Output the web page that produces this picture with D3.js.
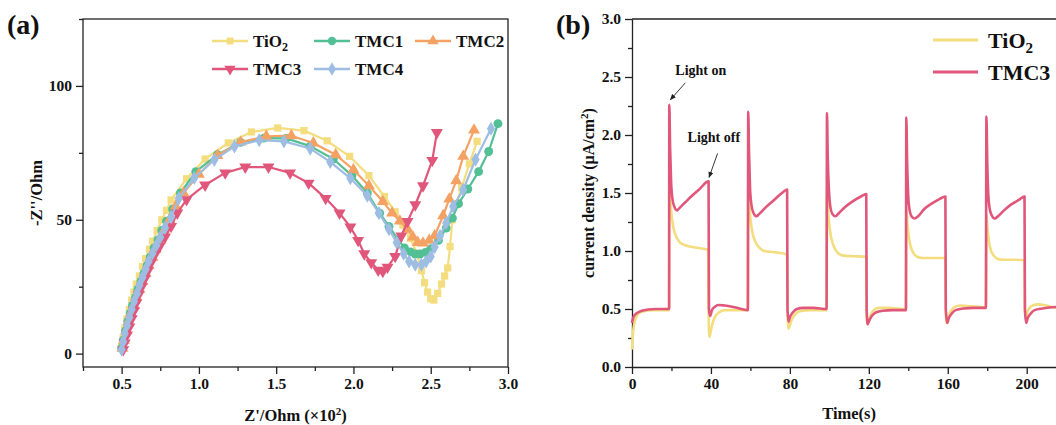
<!DOCTYPE html>
<html><head><meta charset="utf-8">
<script src="https://cdn.jsdelivr.net/npm/d3@7"></script>
<style>
body{margin:0;background:#fff}
svg{display:block}
text{font-family:"Liberation Serif","Times New Roman",serif;font-weight:bold;fill:#111}
</style>
</head><body><svg id="c" width="1056" height="425"></svg>
<script>
// ---------- Panel (a) data: Nyquist plots, Z' (x10^2 Ohm) vs -Z'' (Ohm) ----------
const seriesNamesA = ["TiO2","TMC1","TMC2","TMC3","TMC4"];
const dataTiO2 = [[0.50,2.5],[0.51,6],[0.52,9.5],[0.535,13],[0.55,16.5],[0.565,20],[0.58,23],[0.595,26],[0.615,29],[0.635,32.5],[0.655,35.5],[0.68,39],[0.70,42],[0.73,46],[0.76,50],[0.79,53.5],[0.82,57.4],[0.92,65.3],[1.04,72.7],[1.19,78.7],[1.34,82.8],[1.51,84.3],[1.68,83.3],[1.83,79.5],[1.975,73.7],[2.10,66.5],[2.20,58.7],[2.27,53],[2.32,48],[2.37,43],[2.41,37.5],[2.44,31],[2.46,26.5],[2.48,23],[2.50,20.5],[2.52,20],[2.545,22.5],[2.57,26],[2.59,29],[2.61,32],[2.625,40],[2.64,50],[2.665,56],[2.70,62],[2.75,70.9],[2.80,79.3]];
const dataTMC1 = [[0.50,2],[0.51,5],[0.525,8.5],[0.54,12],[0.555,15],[0.57,18],[0.59,21],[0.605,24],[0.625,27],[0.645,30],[0.665,33],[0.685,36],[0.71,39.5],[0.735,42.5],[0.76,46],[0.79,49.5],[0.83,54],[0.88,60],[0.98,68],[1.12,74.3],[1.27,78.9],[1.42,80.5],[1.565,80.4],[1.72,77.5],[1.87,72.7],[1.99,66.5],[2.09,60],[2.17,52.5],[2.23,47.5],[2.29,42.5],[2.33,39.5],[2.37,38],[2.40,37.2],[2.43,37.2],[2.466,37.8],[2.50,39.2],[2.55,42.3],[2.60,46.9],[2.64,50.6],[2.68,56],[2.74,61.5],[2.81,68],[2.875,75.5],[2.935,85.9]];
const dataTMC2 = [[0.505,2],[0.515,5],[0.53,8.5],[0.545,12],[0.56,15],[0.58,18],[0.595,21],[0.615,24],[0.635,27],[0.655,30],[0.675,33],[0.70,36],[0.72,39],[0.75,42.5],[0.775,46],[0.81,50],[0.85,55],[0.90,60],[1.00,67],[1.12,74],[1.27,79],[1.436,81.2],[1.598,81.4],[1.74,78.7],[1.885,74.3],[2.0,68.7],[2.10,62.7],[2.19,56.8],[2.25,52.5],[2.30,49.5],[2.35,46.5],[2.385,43.5],[2.416,41.5],[2.45,41.3],[2.49,42.3],[2.525,44],[2.58,51.5],[2.62,57.7],[2.665,64.6],[2.71,73.7],[2.78,83.5]];
const dataTMC3 = [[0.51,1.5],[0.52,4],[0.535,7],[0.55,10],[0.565,13],[0.58,16],[0.595,19],[0.61,22],[0.63,25],[0.65,28],[0.67,31],[0.69,34],[0.715,37],[0.745,40],[0.78,43.5],[0.82,47.5],[0.86,52.5],[0.92,57.5],[1.04,63],[1.17,67.5],[1.30,69.7],[1.45,69.7],[1.59,67.5],[1.71,63.7],[1.82,58],[1.91,52.5],[1.98,47.3],[2.03,42.3],[2.07,37.3],[2.115,34],[2.16,31.2],[2.19,30.7],[2.22,32.3],[2.27,36.3],[2.31,44],[2.35,49.4],[2.40,55.6],[2.45,62.7],[2.51,72.2],[2.54,82.6]];
const dataTMC4 = [[0.50,1.5],[0.51,4.5],[0.52,7.5],[0.535,10.5],[0.55,13.5],[0.565,16.5],[0.58,19.5],[0.60,22.5],[0.615,25.5],[0.635,28.5],[0.655,31.5],[0.675,34.5],[0.70,37.5],[0.725,40.5],[0.75,43.5],[0.78,47],[0.82,51],[0.87,58],[0.97,65.6],[1.10,72.4],[1.23,77.4],[1.39,79.7],[1.55,79.3],[1.72,76.6],[1.85,71.6],[1.98,65.5],[2.09,59],[2.165,52.5],[2.23,46.5],[2.28,41.5],[2.325,37.3],[2.36,34.4],[2.40,33.2],[2.44,33.2],[2.47,34.4],[2.50,36.3],[2.525,39.8],[2.56,44],[2.60,48.8],[2.645,55],[2.71,61.2],[2.79,72.5],[2.89,84]];
const xTicksA = [0.5,1.0,1.5,2.0,2.5,3.0];
const xMinorA = [0.25,0.75,1.25,1.75,2.25,2.75];
const yTicksA = [0,50,100];
const yMinorA = [25,75,125];

// ---------- Panel (b) data: photocurrent vs time ----------
const seriesNamesB = ["TiO2","TMC3"];
const curTiO2 = [[0,0.15],[0.3,0.25],[0.8,0.34],[1.5,0.40],[2.5,0.44],[4,0.47],[6,0.48],[10,0.49],[18.8,0.49],
[18.9,1.60],[19.4,1.45],[20,1.32],[21,1.20],[22.5,1.12],[24.5,1.07],[27,1.05],[32,1.03],[38.6,1.01],
[38.8,0.5],[39.2,0.26],[39.8,0.30],[40.7,0.37],[42,0.43],[44,0.47],[47,0.49],[52,0.49],[58.7,0.49],
[58.9,1.58],[59.4,1.42],[60,1.28],[61,1.16],[62.5,1.08],[64.5,1.03],[67,1.00],[72,0.99],[78.6,0.97],
[78.8,0.5],[79.3,0.33],[80,0.36],[81,0.41],[82.5,0.45],[85,0.48],[90,0.49],[98.6,0.49],
[98.8,1.52],[99.3,1.36],[100,1.22],[101,1.11],[102.5,1.03],[104.5,0.98],[107,0.96],[112,0.955],[118.7,0.95],
[118.9,0.5],[119.3,0.37],[120,0.40],[121,0.45],[122.5,0.49],[125,0.51],[130,0.51],[138.8,0.50],
[139.0,1.37],[139.5,1.25],[140.2,1.13],[141.2,1.04],[142.7,0.98],[144.5,0.95],[147,0.94],[152,0.94],[158.8,0.94],
[159.0,0.5],[159.4,0.38],[160.2,0.43],[161.5,0.48],[163,0.51],[166,0.53],[170,0.525],[178,0.515],[179.4,0.51],
[179.6,1.32],[180.1,1.20],[180.8,1.09],[181.8,1.01],[183.3,0.96],[185.5,0.93],[189,0.925],[194,0.925],[198.9,0.92],
[199.1,0.5],[199.5,0.42],[200.3,0.47],[201.5,0.51],[203,0.53],[206,0.54],[210,0.53],[215,0.51],[222,0.50]];
const curTMC3 = [[0,0.38],[0.5,0.42],[1.5,0.45],[3,0.47],[5,0.485],[8,0.495],[12,0.50],[18.8,0.50],
[18.9,2.26],[19.3,1.9],[19.8,1.6],[20.5,1.45],[21.5,1.38],[22.8,1.35],[24,1.37],[27,1.42],[30,1.47],[34,1.53],[38.8,1.60],
[39.0,0.5],[39.6,0.44],[40.5,0.49],[42,0.52],[44,0.535],[47,0.53],[52,0.515],[58.7,0.49],
[58.9,2.20],[59.3,1.85],[59.8,1.55],[60.5,1.40],[61.5,1.33],[63,1.30],[64.5,1.32],[68,1.38],[72,1.44],[76,1.50],[78.6,1.53],
[78.8,0.5],[79.3,0.39],[80,0.43],[81.5,0.47],[83.5,0.50],[87,0.51],[92,0.51],[98.6,0.50],
[98.8,2.19],[99.2,1.8],[99.8,1.52],[100.5,1.38],[101.5,1.32],[103,1.30],[105,1.33],[108,1.38],[112,1.43],[116,1.47],[118.7,1.49],
[118.9,0.5],[119.4,0.37],[120.2,0.40],[121.5,0.44],[123.5,0.47],[127,0.485],[132,0.49],[138.8,0.49],
[139.0,2.15],[139.4,1.78],[139.9,1.50],[140.6,1.36],[141.6,1.30],[143.2,1.28],[145,1.30],[148,1.36],[152,1.41],[156,1.45],[158.8,1.47],
[159.0,0.5],[159.7,0.38],[160.5,0.42],[162,0.46],[164,0.49],[168,0.505],[173,0.51],[179.3,0.51],
[179.6,2.16],[180,1.78],[180.5,1.50],[181.2,1.37],[182.2,1.31],[183.8,1.28],[185.5,1.30],[188.5,1.35],[192,1.40],[196,1.44],[198.9,1.47],
[199.1,0.5],[199.7,0.38],[200.5,0.42],[202,0.46],[204,0.49],[208,0.505],[213,0.515],[222,0.52]];
const xTicksB = [0,40,80,120,160,200];
const xMinorB = [20,60,100,140,180];
const yTicksB = [0,0.5,1.0,1.5,2.0,2.5,3.0];
const yMinorB = [0.25,0.75,1.25,1.75,2.25,2.75];
const annotations = [{label:"Light on", t:18.9, v:2.26}, {label:"Light off", t:38.8, v:1.60}];

// ---------- styles ----------
const colA = {TiO2:"#F3DD7E", TMC1:"#52BF94", TMC2:"#F4A264", TMC3:"#E0577B", TMC4:"#9DBDE3"};
const symA = {TiO2:d3.symbolSquare, TMC1:d3.symbolCircle, TMC2:d3.symbolTriangle, TMC3:d3.symbolTriangle, TMC4:d3.symbolDiamond};
const rotA = {TiO2:0, TMC1:0, TMC2:0, TMC3:180, TMC4:0};
const sizeA = {TiO2:52, TMC1:62, TMC2:62, TMC3:62, TMC4:58};
const dataA = {TiO2:dataTiO2, TMC1:dataTMC1, TMC2:dataTMC2, TMC3:dataTMC3, TMC4:dataTMC4};

const svg = d3.select("#c");
const AX = "#222";

function styleAxis(g, fs){
  g.selectAll("path,line").attr("stroke",AX).attr("stroke-width",1.3);
  g.selectAll("text").attr("font-size",fs).attr("fill","#111")
   .attr("font-family",'"Liberation Serif","Times New Roman",serif').attr("font-weight","bold");
}

// ================= Panel (a) =================
const xa = d3.scaleLinear().domain([0.25,3.0]).range([83,508]);
const ya = d3.scaleLinear().domain([-5,125]).range([367,19]);
const ga = svg.append("g");

ga.append("g").attr("transform","translate(0,367)")
  .call(d3.axisBottom(xa).tickValues(xMinorA).tickSize(4).tickFormat("").tickSizeOuter(0))
  .call(g=>{g.select(".domain").remove(); styleAxis(g,15);});
ga.append("g").attr("transform","translate(83,0)")
  .call(d3.axisLeft(ya).tickValues(yMinorA).tickSize(4).tickFormat("").tickSizeOuter(0))
  .call(g=>{g.select(".domain").remove(); styleAxis(g,15);});
ga.append("g").attr("transform","translate(0,367)")
  .call(d3.axisBottom(xa).tickValues(xTicksA).tickSize(7).tickPadding(4).tickFormat(d3.format(".1f")).tickSizeOuter(0))
  .call(g=>{g.select(".domain").remove(); styleAxis(g,15.5);});
ga.append("g").attr("transform","translate(83,0)")
  .call(d3.axisLeft(ya).tickValues(yTicksA).tickSize(7).tickPadding(4).tickFormat(d3.format("d")).tickSizeOuter(0))
  .call(g=>{g.select(".domain").remove(); styleAxis(g,15.5);});
ga.append("rect").attr("x",xa.range()[0]).attr("y",ya.range()[1])
  .attr("width",xa.range()[1]-xa.range()[0]).attr("height",ya.range()[0]-ya.range()[1])
  .attr("fill","none").attr("stroke",AX).attr("stroke-width",1.3);

const lineA = d3.line().x(d=>xa(d[0])).y(d=>ya(d[1]));
seriesNamesA.forEach(n=>{
  const s = ga.append("g");
  s.append("path").datum(dataA[n]).attr("d",lineA).attr("fill","none")
   .attr("stroke",colA[n]).attr("stroke-width",2.2).attr("stroke-linejoin","round");
  s.selectAll("path.m").data(dataA[n]).join("path").attr("class","m")
   .attr("d",d3.symbol().type(symA[n]).size(sizeA[n]))
   .attr("transform",d=>`translate(${xa(d[0])},${ya(d[1])}) rotate(${rotA[n]})`)
   .attr("fill",colA[n]);
});

// legend (a)
const legA = [{n:"TiO2",x:212,y:41},{n:"TMC1",x:314,y:41},{n:"TMC2",x:415,y:41},{n:"TMC3",x:212,y:69},{n:"TMC4",x:314,y:69}];
legA.forEach(L=>{
  const g = ga.append("g");
  g.append("line").attr("x1",L.x).attr("x2",L.x+36).attr("y1",L.y).attr("y2",L.y)
   .attr("stroke",colA[L.n]).attr("stroke-width",2.4);
  g.append("path").attr("d",d3.symbol().type(symA[L.n]).size(sizeA[L.n]*0.9))
   .attr("transform",`translate(${L.x+18},${L.y}) rotate(${rotA[L.n]})`).attr("fill",colA[L.n]);
  const t = g.append("text").attr("x",L.x+41).attr("y",L.y+6).attr("font-size",17);
  if(L.n==="TiO2"){ t.text("TiO"); t.append("tspan").attr("dy",4).attr("font-size",12).text("2"); }
  else t.text(L.n);
});

ga.append("text").attr("x",(83+508)/2).attr("y",421).attr("text-anchor","middle").attr("font-size",16.5)
  .call(t=>{t.append("tspan").text("Z'/Ohm (×10"); t.append("tspan").attr("dy",-6).attr("font-size",11).text("2");
            t.append("tspan").attr("dy",6).text(")");});
ga.append("text").attr("transform","translate(42,193) rotate(-90)").attr("text-anchor","middle")
  .attr("font-size",16.5).text("-Z''/Ohm");
svg.append("text").attr("x",7).attr("y",34).attr("font-size",28).text("(a)");

// ================= Panel (b) =================
const xb = d3.scaleLinear().domain([0,230]).range([632,632+230*1.9735]);
const yb = d3.scaleLinear().domain([0,3]).range([367,19]);
const gb = svg.append("g");

gb.append("g").attr("transform","translate(0,367)")
  .call(d3.axisBottom(xb).tickValues(xMinorB).tickSize(4).tickFormat("").tickSizeOuter(0))
  .call(g=>{g.select(".domain").remove(); styleAxis(g,15);});
gb.append("g").attr("transform","translate(632,0)")
  .call(d3.axisLeft(yb).tickValues(yMinorB).tickSize(4).tickFormat("").tickSizeOuter(0))
  .call(g=>{g.select(".domain").remove(); styleAxis(g,15);});
gb.append("g").attr("transform","translate(0,367)")
  .call(d3.axisBottom(xb).tickValues(xTicksB).tickSize(7).tickPadding(4).tickFormat(d3.format("d")).tickSizeOuter(0))
  .call(g=>{styleAxis(g,15.5);});
gb.append("g").attr("transform","translate(632,0)")
  .call(d3.axisLeft(yb).tickValues(yTicksB).tickSize(7).tickPadding(4).tickFormat(d3.format(".1f")).tickSizeOuter(0))
  .call(g=>{styleAxis(g,15.5);});
gb.append("line").attr("x1",632).attr("x2",1056).attr("y1",yb(3)).attr("y2",yb(3))
  .attr("stroke",AX).attr("stroke-width",1.3);

const colB = {TiO2:"#F3DD7E", TMC3:"#E0577B"};
const dataB = {TiO2:curTiO2, TMC3:curTMC3};
const lineB = d3.line().x(d=>xb(d[0])).y(d=>yb(d[1])).curve(d3.curveMonotoneX);
seriesNamesB.forEach(n=>{
  gb.append("path").datum(dataB[n]).attr("d",lineB).attr("fill","none")
    .attr("stroke",colB[n]).attr("stroke-width",2.6).attr("stroke-linejoin","round");
});

[{n:"TiO2",y:40},{n:"TMC3",y:72}].forEach(L=>{
  gb.append("line").attr("x1",933).attr("x2",978).attr("y1",L.y).attr("y2",L.y)
    .attr("stroke",colB[L.n]).attr("stroke-width",3);
  const t = gb.append("text").attr("x",988).attr("y",L.y+8).attr("font-size",22);
  if(L.n==="TiO2"){ t.text("TiO"); t.append("tspan").attr("dy",5).attr("font-size",15).text("2"); }
  else t.text(L.n);
});

const defs = svg.append("defs");
defs.append("marker").attr("id","ah").attr("viewBox","0 0 10 10").attr("refX",9).attr("refY",5)
  .attr("markerWidth",7).attr("markerHeight",7).attr("orient","auto")
  .append("path").attr("d","M0,1 L10,5 L0,9 Z").attr("fill","#222");
const annOff = [{tx:6, ty:-30, ax:16, ay:-22, bx:1, by:-5}, {tx:-21, ty:-39, ax:9, ay:-28, bx:0.5, by:-4}];
annotations.forEach((a,i)=>{
  const px = xb(a.t), py = yb(a.v), o = annOff[i];
  gb.append("text").attr("x",px+o.tx).attr("y",py+o.ty).attr("font-size",14).text(a.label);
  gb.append("line").attr("x1",px+o.ax).attr("y1",py+o.ay).attr("x2",px+o.bx).attr("y2",py+o.by)
    .attr("stroke","#222").attr("stroke-width",0.9).attr("marker-end","url(#ah)");
});

gb.append("text").attr("x",xb(110)).attr("y",419).attr("text-anchor","middle").attr("font-size",16.5).text("Time(s)");
gb.append("text").attr("transform","translate(594,193) rotate(-90)").attr("text-anchor","middle").attr("font-size",16)
  .call(t=>{t.append("tspan").text("current density (μA/cm"); t.append("tspan").attr("dy",-6).attr("font-size",11).text("2");
            t.append("tspan").attr("dy",6).text(")");});
svg.append("text").attr("x",556).attr("y",34).attr("font-size",28).text("(b)");
</script></body></html>
